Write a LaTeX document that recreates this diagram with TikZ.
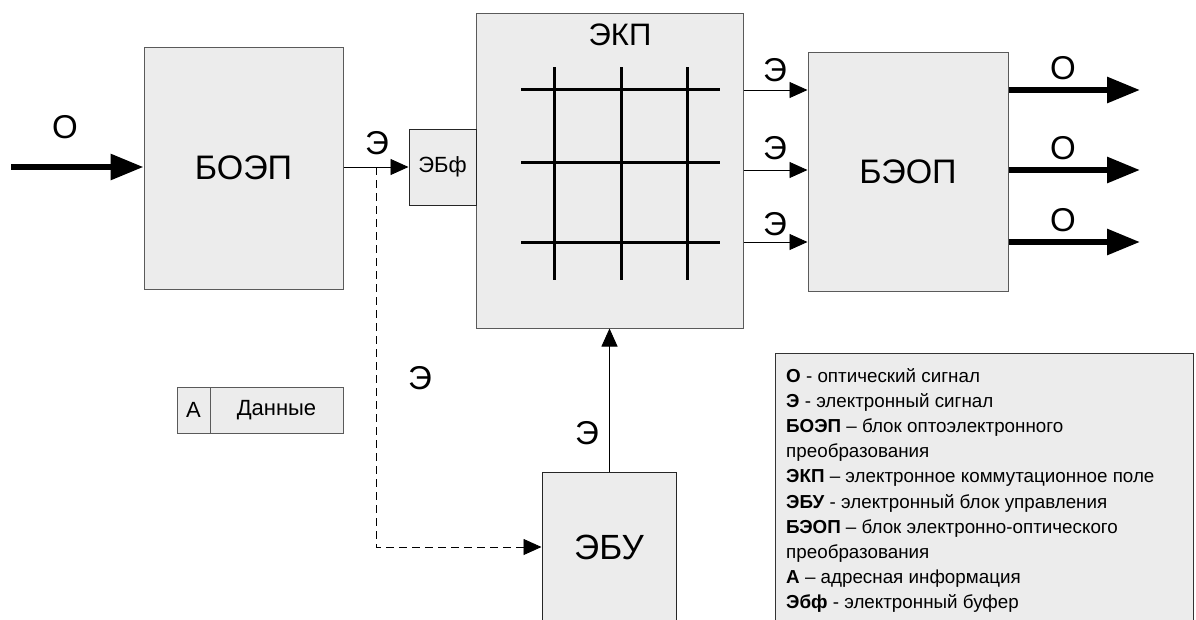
\documentclass[tikz,border=0pt]{standalone}
\usepackage{fontspec}
\setmainfont{Liberation Sans}
\usetikzlibrary{arrows.meta}
\definecolor{boxfill}{HTML}{ECECEC}
\definecolor{boxline}{HTML}{5A5A5A}
\begin{document}
\begin{tikzpicture}[x=1pt,y=-1pt,
  blk/.style={draw=boxline, fill=boxfill, line width=1pt, inner sep=0pt},
  big/.style={font=\fontsize{34}{40}\selectfont},
  lbl/.style={font=\fontsize{33}{38}\selectfont, inner sep=0pt},
  small/.style={font=\fontsize{22}{26}\selectfont, inner sep=0pt},
  legtext/.style={font=\fontsize{18.8}{22}\selectfont, inner sep=0pt, anchor=base west},
  thinarr/.style={line width=0.9pt, -{Triangle[length=18pt,width=16pt]}},
  thickarr/.style={line width=6pt, -{Triangle[length=33pt,width=25pt]}},
  gridln/.style={line width=3pt},
  dasharr/.style={line width=0.9pt, dash pattern=on 8pt off 5pt, -{Triangle[length=18pt,width=16pt]}}
]
\useasboundingbox[fill=white] (0,0) rectangle (1196,619);

% blocks
\node[blk, big, minimum width=199pt, minimum height=242pt] (boep) at (243.5,168) {БОЭП};
\node[blk, minimum width=267pt, minimum height=315pt] (ekp) at (609.5,170.5) {};
\node[blk, draw=black!85, font=\fontsize{22}{26}\selectfont, minimum width=67pt, minimum height=76pt] (ebf) at (442.5,167) {ЭБф};
\node[blk, big, minimum width=200pt, minimum height=239pt] (beop) at (908,171.5) {БЭОП};
\node[blk, draw=black!85, minimum width=134pt, minimum height=170pt] (ebu) at (609,557) {};
\node[font=\fontsize{35}{40}\selectfont, inner sep=0pt] (ebut) at (609,547) {ЭБУ};
\node[font=\fontsize{31}{36}\selectfont, inner sep=0pt] (ekpt) at (620,35) {ЭКП};

% switching grid
\foreach \yy in {89,162,242} \draw[gridln] (521,\yy) -- (720,\yy);
\foreach \xx in {554,621,687} \draw[gridln] (\xx,67) -- (\xx,280);

% coordinates for free ends
\coordinate (in) at (11,167);
\coordinate (br) at (376,167);
\coordinate (dc) at (376,547);
\coordinate (o1) at (1140,90);
\coordinate (o2) at (1140,170);
\coordinate (o3) at (1140,242);

% connectors
\draw[thickarr] (in) -- (in -| boep.west);
\draw[thinarr] (boep.east |- ebf.west) -- (ebf.west);
\draw[dasharr] (br) -- (dc) -- (dc -| ebu.west);
\foreach \o in {o1,o2,o3}{
  \draw[thinarr] (ekp.east |- \o) -- (beop.west |- \o);
  \draw[thickarr] (beop.east |- \o) -- (\o);
}
\draw[thinarr] (ebu.north -| ekp.south) -- (ekp.south);

% labels
\node[lbl] (lin) at (65,127) {О};
\node[lbl] (le0) at (377,143) {Э};
\node[lbl] (le1) at (775,70) {Э};
\node[lbl] (le2) at (775,148) {Э};
\node[lbl] (le3) at (775,224) {Э};
\node[lbl] (lo1) at (1063,68) {О};
\node[lbl] (lo2) at (1063,148) {О};
\node[lbl] (lo3) at (1063,220) {О};
\node[lbl] (led) at (420,378) {Э};
\node[lbl] (leu) at (587,433) {Э};

% packet format
\node[blk, small, minimum width=33pt, minimum height=46pt] (aA) at (193.5,410) {А};
\node[blk, small, minimum width=133pt, minimum height=46pt] (aD) at (276.5,410) {Данные};

% legend
\node[blk, draw=black!80, minimum width=418pt, minimum height=290pt] (leg) at (984,498) {};
\foreach \t [count=\i] in {
  {\textbf{О} - оптический сигнал},
  {\textbf{Э} - электронный сигнал},
  {\textbf{БОЭП} – блок оптоэлектронного},
  {преобразования},
  {\textbf{ЭКП} – электронное коммутационное поле},
  {\textbf{ЭБУ} - электронный блок управления},
  {\textbf{БЭОП} – блок электронно-оптического},
  {преобразования},
  {\textbf{А} – адресная информация},
  {\textbf{Эбф} - электронный буфер}}
  \node[legtext] (lg\i) at (786,{382+25.2*(\i-1)}) {\t};
\end{tikzpicture}
\end{document}
